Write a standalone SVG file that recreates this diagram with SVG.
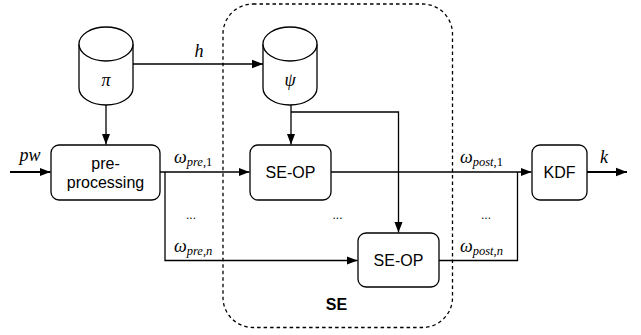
<svg xmlns="http://www.w3.org/2000/svg" width="641" height="335" viewBox="0 0 641 335">
<style>
.box{fill:#fff;stroke:#000;stroke-width:1.3}
.cyl{fill:#fff;stroke:#000;stroke-width:1.3}
.lbl{font-family:"Liberation Sans",Arial,sans-serif;font-size:16px;fill:#000;text-anchor:middle}
.math{font-family:"Liberation Serif","Times New Roman",serif;font-style:italic;font-size:18px;fill:#000}
.sub{font-size:12.5px}
.up{font-style:normal}
.dots{font-family:"Liberation Sans",Arial,sans-serif;font-size:12px;fill:#000;text-anchor:middle}
.c{fill:none;stroke:#000;stroke-width:1.3}
.thick{stroke-width:2}
</style>
<defs>
<marker id="ah" markerUnits="userSpaceOnUse" markerWidth="12" markerHeight="10" refX="11" refY="5" orient="auto">
<path d="M0,0.8 L11,5 L0,9.2 Z" fill="#000"/>
</marker>
</defs>
<rect x="223" y="4" width="229.5" height="323.5" rx="30" ry="30" fill="none" stroke="#000" stroke-width="1.3" stroke-dasharray="3.5 3"/>
<text x="336.5" y="310" class="lbl" style="font-weight:bold">SE</text>
<g id="connectors">
<path class="c" d="M106,105 V144.5" marker-end="url(#ah)"/>
<path class="c" d="M133,64 H263" marker-end="url(#ah)"/>
<path class="c" d="M291,105 V144.5" marker-end="url(#ah)"/>
<path class="c" d="M291,112 H398.5 V232.5" marker-end="url(#ah)"/>
<path class="c thick" d="M10,172 H50.5" marker-end="url(#ah)"/>
<path class="c" d="M160,172 H249.5" marker-end="url(#ah)"/>
<path class="c" d="M165,172 V260.5 H357.5" marker-end="url(#ah)"/>
<path class="c" d="M331,172 H531.5" marker-end="url(#ah)"/>
<path class="c" d="M439,260.5 H517.5 V172"/>
<path class="c thick" d="M587,172 H627" marker-end="url(#ah)"/>
<text x="199" y="57" class="math" text-anchor="middle">h</text>
<text x="30" y="161" class="math" text-anchor="middle">pw</text>
<text x="604" y="163" class="math" text-anchor="middle">k</text>
<text x="174" y="163" class="math">ω<tspan class="sub" dy="3">pre</tspan><tspan class="sub up">,1</tspan></text>
<text x="174" y="252" class="math">ω<tspan class="sub" dy="3">pre</tspan><tspan class="sub up">,</tspan><tspan class="sub">n</tspan></text>
<text x="460" y="163" class="math">ω<tspan class="sub" dy="3">post</tspan><tspan class="sub up">,1</tspan></text>
<text x="460" y="252" class="math">ω<tspan class="sub" dy="3">post</tspan><tspan class="sub up">,</tspan><tspan class="sub">n</tspan></text>
<text x="191" y="219" class="dots">...</text>
<text x="337.5" y="219" class="dots">...</text>
<text x="486" y="219" class="dots">...</text>
</g>
<g id="pi">
<path class="cyl" d="M79,44 V88 A27,17 0 0 0 133,88 V44 A27,17 0 0 0 79,44 Z"/>
<path class="cyl" fill="none" d="M79,44 A27,17 0 0 0 133,44"/>
<text x="106" y="86" class="math" text-anchor="middle">π</text>
</g>
<g id="psi">
<path class="cyl" d="M263,44 V88 A27,17 0 0 0 317,88 V44 A27,17 0 0 0 263,44 Z"/>
<path class="cyl" fill="none" d="M263,44 A27,17 0 0 0 317,44"/>
<text x="290" y="86" class="math" text-anchor="middle">ψ</text>
</g>
<g id="preprocessing">
<rect class="box" x="51" y="145" width="109" height="55" rx="8"/>
<text x="105.5" y="169" class="lbl">pre-</text>
<text x="105.5" y="188" class="lbl">processing</text>
</g>
<g id="seop1">
<rect class="box" x="250" y="145" width="81" height="55" rx="8"/>
<text x="290.5" y="178" class="lbl">SE-OP</text>
</g>
<g id="seop2">
<rect class="box" x="358" y="233" width="81" height="54" rx="8"/>
<text x="398.5" y="266" class="lbl">SE-OP</text>
</g>
<g id="kdf">
<rect class="box" x="532" y="145" width="55" height="55" rx="8"/>
<text x="559.5" y="178" class="lbl">KDF</text>
</g>
</svg>
